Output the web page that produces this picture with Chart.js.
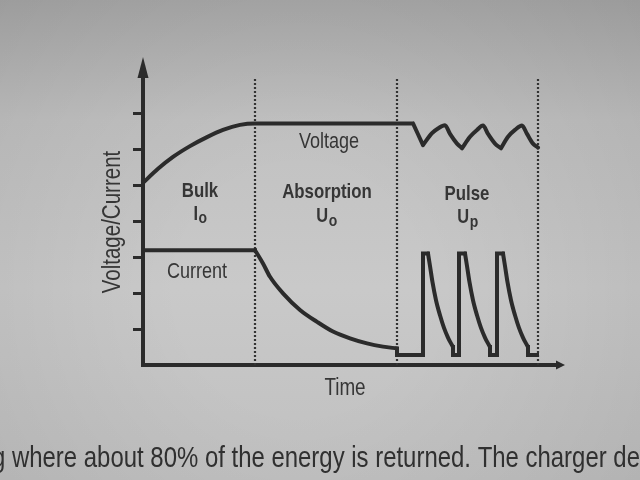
<!DOCTYPE html>
<html><head><meta charset="utf-8">
<script src="https://cdn.jsdelivr.net/npm/chart.js@4.4.1/dist/chart.umd.min.js"></script>
<style>html,body{margin:0;padding:0;background:#c2c2c2;overflow:hidden}canvas{display:block}</style>
</head><body>
<canvas id="c" width="640" height="480"></canvas>
<script>
// ---- data (time units along x, relative level along y) ----
const voltageT = [0, 1.5, 3.0, 4.7, 6.4, 8.0, 9.7, 11.2, 27.0, 27.0, 27.0, 28.0, 28.0, 28.0, 28.9, 29.5, 30.2, 30.7, 31.4, 31.9, 31.9, 31.9, 32.7, 33.4, 34.0, 34.5, 35.2, 35.8, 35.8, 35.8, 36.5, 37.2, 37.9, 38.4, 39.0, 39.5];
const voltageV = [5.06, 5.45, 5.78, 6.08, 6.33, 6.53, 6.67, 6.71, 6.71, null, 6.71, 6.11, null, 6.11, 6.44, 6.57, 6.66, 6.42, 6.15, 6.02, null, 6.02, 6.34, 6.53, 6.65, 6.42, 6.15, 6.02, null, 6.02, 6.34, 6.53, 6.65, 6.42, 6.15, 6.04];

const currentCurveT = [11.2, 12.0, 12.7, 14.0, 15.7, 17.4, 19.0, 20.7, 22.4, 24.0, 25.4, 25.4,
  28.5, 28.7, 28.95, 29.3, 29.7, 30.1, 30.5, 30.8, 31.0, 31.0,
  32.2, 32.4, 32.65, 33.0, 33.4, 33.8, 34.2, 34.5, 34.7, 34.7,
  36.0, 36.2, 36.45, 36.8, 37.2, 37.6, 38.0, 38.3, 38.5];
const currentCurveI = [3.19, 2.82, 2.45, 1.99, 1.53, 1.2, 0.93, 0.74, 0.6, 0.51, 0.46, null,
  3.1, 2.75, 2.3, 1.8, 1.38, 1.03, 0.76, 0.6, 0.5, null,
  3.1, 2.75, 2.3, 1.8, 1.38, 1.03, 0.76, 0.6, 0.5, null,
  3.1, 2.75, 2.3, 1.8, 1.38, 1.03, 0.76, 0.6, 0.5];

const currentLineT = [0, 11.2, 11.2, 25.4, 25.4, 28.0, 28.0, 28.5, 28.5, 31.0, 31.0, 31.6, 31.6, 32.2, 32.2, 34.7, 34.7, 35.4, 35.4, 36.0, 36.0, 38.5, 38.5, 39.4];
const currentLineI = [3.19, 3.19, null, 0.46, 0.28, 0.28, 3.1, 3.1, null, 0.5, 0.28, 0.28, 3.1, 3.1, null, 0.5, 0.28, 0.28, 3.1, 3.1, null, 0.5, 0.28, 0.28];

const phaseBounds = [11.2, 25.4, 39.5];
const yTickValues = [1, 2, 3, 4, 5, 6, 7];
const xRange = [0, 41.4];
const yRange = [0, 8];

const seriesLabels = ['Voltage', 'Current'];
const phaseNames = ['Bulk', 'Absorption', 'Pulse'];
const phaseSymbols = [['I', 'o'], ['U', 'o'], ['U', 'p']];
const axisTitles = {x: 'Time', y: 'Voltage/Current'};
const pageText = 'g where about 80% of the energy is returned. The charger de';

// ---- helpers ----
const LINE = '#2b2b2b';
const TEXT = '#363636';
const FONT = '"Liberation Sans", Arial, sans-serif';
const SX = 0.82;

function pts(ts, vs) { return ts.map((t, i) => ({x: t, y: vs[i]})); }
const phaseT = [], phaseV = [];
phaseBounds.forEach((b, i) => {
  if (i) { phaseT.push(b); phaseV.push(null); }
  phaseT.push(b, b); phaseV.push(yRange[0], yRange[1]);
});

function txt(ctx, s, x, y, size, bold, align, rot, color) {
  ctx.save();
  ctx.translate(x, y);
  if (rot) ctx.rotate(rot);
  ctx.scale(SX, 1);
  ctx.font = (bold ? 'bold ' : '') + size + 'px ' + FONT;
  ctx.textAlign = align || 'center';
  ctx.textBaseline = 'alphabetic';
  ctx.fillStyle = color || TEXT;
  ctx.fillText(s, 0, 0);
  ctx.restore();
}
function width(ctx, s, size, bold) {
  ctx.save();
  ctx.font = (bold ? 'bold ' : '') + size + 'px ' + FONT;
  const w = ctx.measureText(s).width * SX;
  ctx.restore();
  return w;
}

// label anchors in data coordinates
const seriesLabelPos = [[18.6, 6.03], [5.4, 2.42]];
const phaseNamePos = [[5.7, 4.67], [18.4, 4.64], [32.4, 4.58]];
const phaseSymbolPos = [[5.7, 4.03], [18.35, 3.97], [32.45, 3.94]];

const bgPlugin = {
  id: 'bg',
  beforeDraw(chart) {
    const ctx = chart.ctx, w = chart.width, h = chart.height;
    ctx.save();
    const g = ctx.createLinearGradient(0, 0, 0, h);
    g.addColorStop(0, '#a9a9a9');
    g.addColorStop(0.25, '#c1c1c1');
    g.addColorStop(0.6, '#c9c9c9');
    g.addColorStop(1, '#c0c0c0');
    ctx.fillStyle = g;
    ctx.fillRect(0, 0, w, h);
    const r = ctx.createRadialGradient(300, 290, 120, 300, 290, 520);
    r.addColorStop(0, 'rgba(0,0,0,0)');
    r.addColorStop(1, 'rgba(0,0,0,0.10)');
    ctx.fillStyle = r;
    ctx.fillRect(0, 0, w, h);
    ctx.restore();
  }
};

const overlayPlugin = {
  id: 'overlay',
  afterDraw(chart) {
    const ctx = chart.ctx, a = chart.chartArea;
    const xs = chart.scales.x, ys = chart.scales.y;
    // arrowheads
    ctx.save();
    ctx.fillStyle = LINE;
    ctx.beginPath();
    ctx.moveTo(a.left, a.top - 20);
    ctx.lineTo(a.left - 5.5, a.top + 1);
    ctx.lineTo(a.left + 5.5, a.top + 1);
    ctx.closePath();
    ctx.fill();
    ctx.beginPath();
    ctx.moveTo(a.right + 8, a.bottom);
    ctx.lineTo(a.right - 1, a.bottom - 4.5);
    ctx.lineTo(a.right - 1, a.bottom + 4.5);
    ctx.closePath();
    ctx.fill();
    ctx.restore();

    // series labels
    seriesLabels.forEach((s, i) => {
      txt(ctx, s, xs.getPixelForValue(seriesLabelPos[i][0]), ys.getPixelForValue(seriesLabelPos[i][1]), 22, false, 'center');
    });
    // phase names and symbols
    phaseNames.forEach((s, i) => {
      txt(ctx, s, xs.getPixelForValue(phaseNamePos[i][0]), ys.getPixelForValue(phaseNamePos[i][1]), 20.5, true, 'center');
      const [m, sub] = phaseSymbols[i];
      const w1 = width(ctx, m, 20, true), w2 = width(ctx, sub, 17, true);
      const cx = xs.getPixelForValue(phaseSymbolPos[i][0]);
      const by = ys.getPixelForValue(phaseSymbolPos[i][1]);
      const x0 = cx - (w1 + w2) / 2;
      txt(ctx, m, x0, by, 20, true, 'left');
      txt(ctx, sub, x0 + w1 + 0.5, by + 3.5, 17, true, 'left');
    });
    // axis titles
    txt(ctx, axisTitles.x, (a.left + a.right) / 2 - 5, a.bottom + 30, 23, false, 'center');
    txt(ctx, axisTitles.y, a.left - 23, (a.top + a.bottom) / 2 + 1, 25, false, 'center', -Math.PI / 2);
    // page text under the figure
    txt(ctx, pageText, -8, 467, 29.2, false, 'left', 0, '#303030');
  }
};

new Chart(document.getElementById('c'), {
  type: 'line',
  data: {
    datasets: [
      {label: seriesLabels[0], data: pts(voltageT, voltageV), borderColor: LINE, borderWidth: 4,
       cubicInterpolationMode: 'monotone', pointRadius: 0, fill: false, spanGaps: false,
       borderCapStyle: 'round', borderJoinStyle: 'round'},
      {label: seriesLabels[1], data: pts(currentCurveT, currentCurveI), borderColor: LINE, borderWidth: 4,
       cubicInterpolationMode: 'monotone', pointRadius: 0, fill: false, spanGaps: false,
       borderCapStyle: 'round', borderJoinStyle: 'round'},
      {label: seriesLabels[1] + ' steps', data: pts(currentLineT, currentLineI), borderColor: LINE, borderWidth: 4,
       tension: 0, pointRadius: 0, fill: false, spanGaps: false,
       borderCapStyle: 'square', borderJoinStyle: 'miter'},
      {label: 'Phases', data: pts(phaseT, phaseV), borderColor: '#333333', borderWidth: 2.2,
       borderDash: [2, 2], tension: 0, pointRadius: 0, fill: false, spanGaps: false}
    ]
  },
  options: {
    responsive: false,
    animation: false,
    devicePixelRatio: 1,
    layout: {padding: {left: 133, right: 83, top: 77, bottom: 115}},
    plugins: {legend: {display: false}, tooltip: {enabled: false}},
    scales: {
      x: {type: 'linear', min: xRange[0], max: xRange[1],
          ticks: {display: false}, grid: {display: false, drawTicks: false},
          border: {display: true, color: LINE, width: 4}},
      y: {type: 'linear', min: yRange[0], max: yRange[1],
          afterBuildTicks: s => { s.ticks = yTickValues.map(v => ({value: v})); },
          ticks: {display: false},
          grid: {display: true, drawOnChartArea: false, drawTicks: true, tickLength: 10, tickWidth: 3, tickColor: LINE},
          border: {display: true, color: LINE, width: 4}}
    }
  },
  plugins: [bgPlugin, overlayPlugin]
});
</script>
</body></html>
